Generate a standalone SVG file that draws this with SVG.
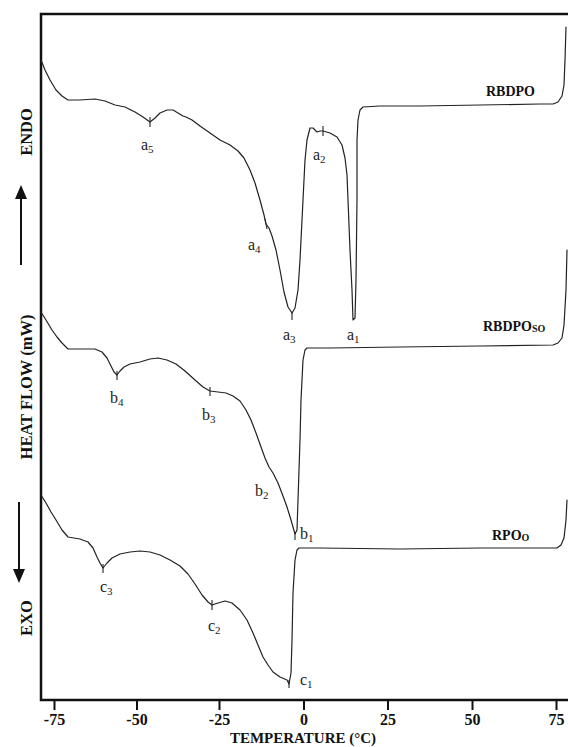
<svg xmlns="http://www.w3.org/2000/svg" width="568" height="747" viewBox="0 0 568 747">
<style>
.frame{fill:none;stroke:#111;stroke-width:2.5}
.tick{stroke:#111;stroke-width:2}
.curve{fill:none;stroke:#222;stroke-width:1.2;stroke-linejoin:round;stroke-linecap:round}
.mark{stroke:#222;stroke-width:1.1}
.pk{font-family:"Liberation Serif","Times New Roman",serif;font-size:16px;fill:#222}
.sub{font-size:11px}
.ser{font-family:"Liberation Serif","Times New Roman",serif;font-size:14px;font-weight:bold;fill:#111}
.ax{font-family:"Liberation Serif","Times New Roman",serif;font-size:16px;font-weight:bold;fill:#111;text-anchor:middle}
.xt{font-family:"Liberation Serif","Times New Roman",serif;font-size:15px;font-weight:bold;fill:#111;text-anchor:middle}
.yl{font-family:"Liberation Serif","Times New Roman",serif;font-size:16.5px;font-weight:bold;fill:#111;text-anchor:middle}
</style>
<rect width="568" height="747" fill="#fff"/>
<g id="axes">
<path class="frame" d="M568,14 H41 V700 H568"/>
<line class="tick" x1="54.5" y1="700" x2="54.5" y2="710"/>
<line class="tick" x1="137" y1="700" x2="137" y2="710"/>
<line class="tick" x1="219.5" y1="700" x2="219.5" y2="710"/>
<line class="tick" x1="304" y1="700" x2="304" y2="710"/>
<line class="tick" x1="388" y1="700" x2="388" y2="710"/>
<line class="tick" x1="472.5" y1="700" x2="472.5" y2="710"/>
<line class="tick" x1="556.5" y1="700" x2="556.5" y2="710"/>
<text class="ax" x="54.5" y="725">-75</text>
<text class="ax" x="137" y="725">-50</text>
<text class="ax" x="219.5" y="725">-25</text>
<text class="ax" x="304" y="725">0</text>
<text class="ax" x="388" y="725">25</text>
<text class="ax" x="472.5" y="725">50</text>
<text class="ax" x="556.5" y="725">75</text>
<text class="xt" x="303" y="743">TEMPERATURE (°C)</text>
<text class="yl" transform="translate(32,132) rotate(-90)">ENDO</text>
<text class="yl" transform="translate(32,387) rotate(-90)">HEAT FLOW (mW)</text>
<text class="yl" transform="translate(32,618) rotate(-90)">EXO</text>
<line x1="21" y1="265" x2="21" y2="196" stroke="#111" stroke-width="2"/>
<polygon points="21,185 15,199 27,199" fill="#111"/>
<line x1="19" y1="502" x2="19" y2="571" stroke="#111" stroke-width="2"/>
<polygon points="19,583 13,569 25,569" fill="#111"/>
</g>
<g id="rbdpo">
<polyline class="curve" points="41,60 45,70 50,80 56,90 62,96 68,100 80,100 95,99 105,101 115,105 125,107 135,112 143,117 150,122 155,118 160,113 167,110 173,110 178,113 183,116 186,117 192,120 200,126 210,133 220,140 230,145 238,151 244,158 250,170 255,183 260,200 264,215 266,224 269,228 272,236 276,250 280,270 284,292 288,307 292,313 295,308 298,290 300,260 301,240 303,200 305,160 307,140 310,128 313,128 317,132 320,131 323,131 330,133 337,137 342,145 345,158 347,175 348,200 350,250 352,290 353,320 355,318 356,280 357,200 357,140 358,120 360,110 363,107 380,106 420,106 480,105 540,104 553,104 558,102 562,96 564,85 565,60 566,27"/>
<line class="mark" x1="150" y1="117" x2="150" y2="127"/>
<line class="mark" x1="323" y1="126" x2="323" y2="136"/>
<line class="mark" x1="265" y1="219" x2="267" y2="229"/>
<line class="mark" x1="292" y1="312" x2="292" y2="320"/>
<text class="ser" x="486" y="96">RBDPO</text>
<text class="pk" x="141" y="150">a<tspan class="sub" dy="3">5</tspan></text>
<text class="pk" x="313" y="160">a<tspan class="sub" dy="3">2</tspan></text>
<text class="pk" x="248" y="250">a<tspan class="sub" dy="3">4</tspan></text>
<text class="pk" x="283" y="340">a<tspan class="sub" dy="3">3</tspan></text>
<text class="pk" x="347" y="340">a<tspan class="sub" dy="3">1</tspan></text>
</g>
<g id="rbdpo-so">
<polyline class="curve" points="41,312 46,320 52,330 57,337 62,343 68,349 80,349 95,349 102,352 107,358 111,366 114,372 117,375 120,371 124,367 130,364 140,362 150,359 158,358 167,360 176,364 185,371 195,380 203,387 210,391 218,392 226,393 233,396 240,401 246,410 251,420 256,433 261,447 265,458 269,467 273,473 278,483 283,496 287,507 291,520 295,534 297,530 298,500 300,440 301,400 303,360 305,350 307,348 330,348 400,347 480,346 553,345 558,343 562,338 564,325 566,290 567,250"/>
<line class="mark" x1="117" y1="371" x2="117" y2="380"/>
<line class="mark" x1="210" y1="387" x2="210" y2="396"/>
<line class="mark" x1="295" y1="532" x2="295" y2="540"/>
<text class="ser" x="483" y="331">RBDPO<tspan font-size="10" dy="1">SO</tspan></text>
<text class="pk" x="110" y="403">b<tspan class="sub" dy="3">4</tspan></text>
<text class="pk" x="202" y="420">b<tspan class="sub" dy="3">3</tspan></text>
<text class="pk" x="255" y="496">b<tspan class="sub" dy="3">2</tspan></text>
<text class="pk" x="300" y="539">b<tspan class="sub" dy="3">1</tspan></text>
</g>
<g id="rpo-o">
<polyline class="curve" points="41,495 46,503 51,512 56,520 62,530 68,537 80,539 88,542 93,548 97,557 100,563 103,568 107,563 112,558 120,554 130,552 140,551 150,552 160,555 170,560 180,566 188,574 195,584 202,595 208,602 212,605 218,603 225,601 232,603 240,610 247,620 253,633 258,645 263,657 268,665 273,672 280,677 287,680 289,684 291,673 292,640 293,593 295,560 297,550 299,548 320,548 400,549 480,548 557,548 561,545 564,538 566,520 567,500"/>
<line class="mark" x1="103" y1="564" x2="103" y2="573"/>
<line class="mark" x1="212" y1="600" x2="212" y2="610"/>
<line class="mark" x1="289" y1="680" x2="289" y2="688"/>
<text class="ser" x="492" y="540">RPO<tspan font-size="10" dy="1">O</tspan></text>
<text class="pk" x="100" y="592">c<tspan class="sub" dy="3">3</tspan></text>
<text class="pk" x="208" y="631">c<tspan class="sub" dy="3">2</tspan></text>
<text class="pk" x="300" y="685">c<tspan class="sub" dy="3">1</tspan></text>
</g>
</svg>
